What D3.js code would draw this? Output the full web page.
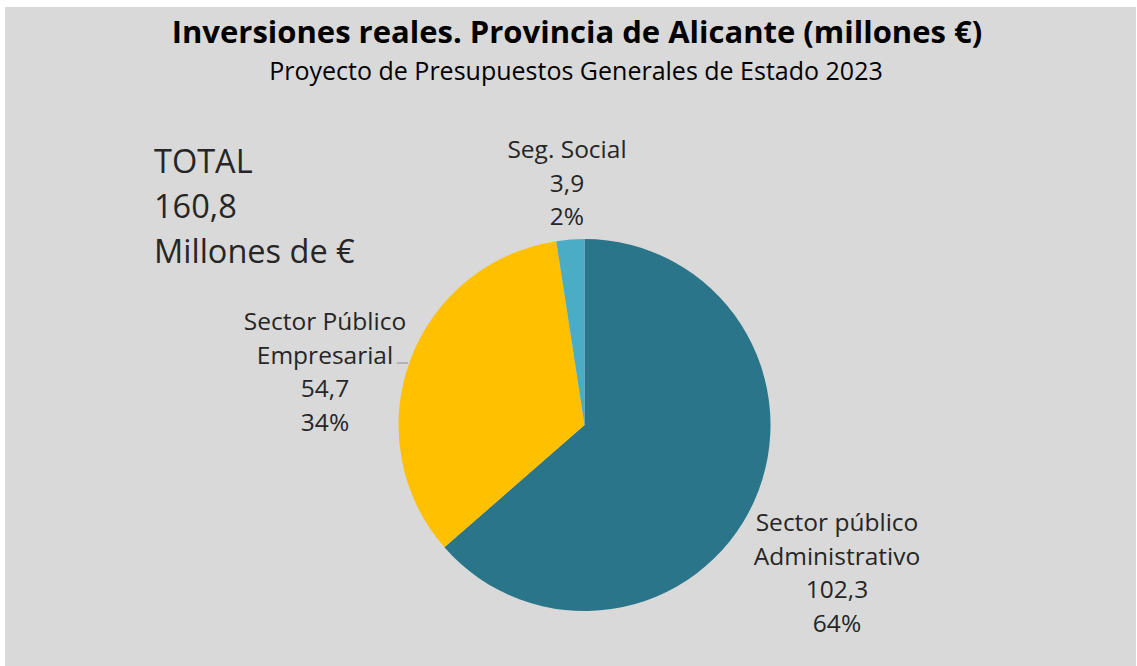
<!DOCTYPE html>
<html><head><meta charset="utf-8">
<script src="https://cdn.jsdelivr.net/npm/d3@7"></script>
<style>html,body{margin:0;padding:0;background:#fff;}svg{display:block;font-family:"Open Sans","Noto Sans",sans-serif;}</style>
</head><body>
<svg id="chart" width="1137" height="666"></svg>
<script>
const categories = ["Sector público Administrativo", "Sector Público Empresarial", "Seg. Social"];
const labelLines = [["Sector público", "Administrativo"], ["Sector Público", "Empresarial"], ["Seg. Social"]];
const values = [102.3, 54.7, 3.9];
const percents = ["64%", "34%", "2%"];
const valueLabels = ["102,3", "54,7", "3,9"];
const colors = ["#2a7589", "#ffc000", "#4bacc6"];
const totalLines = ["TOTAL", "160,8", "Millones de €"];
const title = "Inversiones reales. Provincia de Alicante (millones €)";
const subtitle = "Proyecto de Presupuestos Generales de Estado 2023";

const svg = d3.select("#chart");
svg.append("rect").attr("x", 5).attr("y", 7).attr("width", 1131).attr("height", 659).attr("fill", "#d9d9d9");

svg.append("text").attr("x", 577).attr("y", 43).attr("text-anchor", "middle")
  .attr("font-size", 31).attr("font-weight", "bold").attr("fill", "#000").text(title);
svg.append("text").attr("x", 576).attr("y", 80).attr("text-anchor", "middle")
  .attr("font-size", 25).attr("fill", "#000").text(subtitle);

const cx = 584.5, cy = 425, r = 186;
const pie = d3.pie().sort(null).value(d => d)(values);
const arc = d3.arc().innerRadius(0).outerRadius(r);
const g = svg.append("g").attr("transform", `translate(${cx},${cy})`);
g.selectAll("path").data(pie).join("path").attr("d", arc).attr("fill", (d, i) => colors[i]);

// leader line for Empresarial
svg.append("line").attr("x1", 397).attr("y1", 363).attr("x2", 408).attr("y2", 363)
  .attr("stroke", "#a6a6a6").attr("stroke-width", 1.5);

const labelPos = [{x: 837, y: 531}, {x: 325, y: 330}, {x: 567, y: 158}];
const lh = 33.7;
labelPos.forEach((p, i) => {
  const lines = labelLines[i].concat([valueLabels[i], percents[i]]);
  const t = svg.append("text").attr("text-anchor", "middle").attr("font-size", 24.5).attr("fill", "#262626");
  lines.forEach((s, k) => t.append("tspan").attr("x", p.x).attr("y", p.y + k * lh).text(s));
});

const tt = svg.append("text").attr("font-size", 32.5).attr("fill", "#262626");
totalLines.forEach((s, k) => tt.append("tspan").attr("x", 154).attr("y", 173 + k * 45).text(s));
</script>
</body></html>
